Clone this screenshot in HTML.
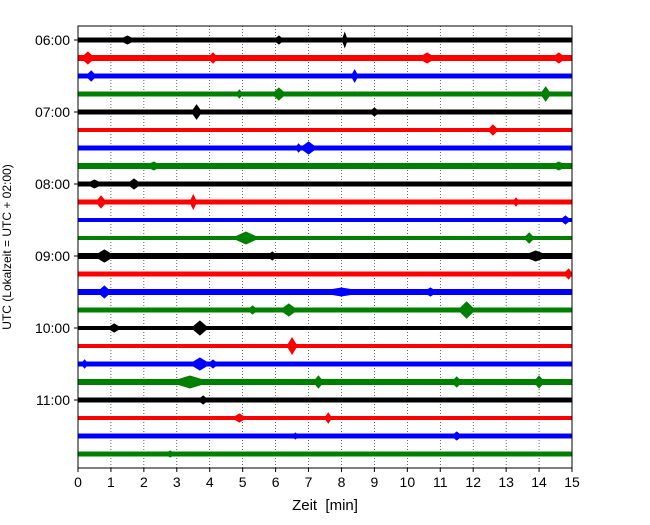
<!DOCTYPE html>
<html><head><meta charset="utf-8"><style>
body{margin:0;background:#fff;}
svg text{font-family:"Liberation Sans",sans-serif;}
</style></head><body>
<svg width="650" height="520" xmlns="http://www.w3.org/2000/svg">
<g id="grid"></g><g id="traces"></g><g id="axes"></g>
</svg>
<script>
const xTicks=[0,1,2,3,4,5,6,7,8,9,10,11,12,13,14,15];
const hourLabels=["06:00","07:00","08:00","09:00","10:00","11:00"];
const traceColors=["#000000","#ff0000","#0000ff","#008000"];
const traceCount=24;
const noiseAmp=[2.5,3,2.5,2.5,2.5,2,2.5,3,2.5,2.5,2,2,3,2.5,3,2.5,2,2,2.5,3,2.5,2,2.5,2.5];
// events: [trace, minute, amplitude (px), duration (min)]
const events=[[0,1.5,4,0.5],[0,8.1,7,0.15],[0,6.1,4,0.3],[1,0.3,6,0.4],[1,4.1,5,0.3],[1,10.6,5,0.5],[1,14.6,5,0.4],[2,0.4,5,0.3],[2,8.4,6,0.2],[3,6.1,6,0.4],[3,14.2,7,0.3],[3,4.9,4,0.2],[4,3.6,7,0.3],[4,9.0,4,0.3],[5,12.6,5,0.3],[6,7.0,6,0.5],[6,6.7,4,0.2],[7,2.3,4,0.5],[7,14.6,4,0.5],[8,1.7,5,0.4],[8,0.5,4,0.5],[9,3.5,7,0.2],[9,0.7,6,0.3],[9,13.3,4,0.2],[10,14.8,4,0.3],[11,5.1,6,0.8],[11,13.7,5,0.3],[12,0.8,6,0.6],[12,5.9,4,0.3],[12,13.9,5,0.8],[13,14.9,5,0.3],[14,0.8,6,0.4],[14,8.0,4,1.5],[14,10.7,4,0.4],[15,6.4,6,0.5],[15,11.8,8,0.5],[15,5.3,4,0.3],[16,3.7,7,0.5],[16,1.1,4,0.4],[17,6.5,8,0.3],[18,3.7,6,0.6],[18,0.2,4,0.2],[18,4.1,4,0.3],[19,3.4,6,1.2],[19,7.3,6,0.3],[19,11.5,5,0.3],[19,14.0,6,0.3],[20,3.8,4,0.3],[21,7.6,5,0.2],[21,4.9,4,0.4],[22,11.5,4,0.3],[22,6.6,3,0.2],[23,2.8,3,0.3]];
const X0=78,X1=572,Y0=26,Y1=468,T0=40,DT=18;
const xs=m=>X0+(X1-X0)*m/15;
const ys=i=>T0+DT*i;
const NS="http://www.w3.org/2000/svg";
function mk(t,a,p){const e=document.createElementNS(NS,t);for(const k in a)e.setAttribute(k,a[k]);p.appendChild(e);return e;}
const grid=document.getElementById('grid'),tr=document.getElementById('traces'),ax=document.getElementById('axes');
xTicks.forEach(m=>{if(m>0&&m<15){const l=mk('line',{x1:xs(m),x2:xs(m),y1:Y0,y2:Y1,stroke:'#000','stroke-width':0.6,'stroke-dasharray':'1,2'},grid);

}});
for(let i=0;i<traceCount;i++){const c=traceColors[i%4];
const r=mk('rect',{x:X0,y:ys(i)-noiseAmp[i],width:X1-X0,height:2*noiseAmp[i],fill:c},tr);

}
events.forEach(ev=>{const [i,m,a,d]=ev;const c=traceColors[i%4];const y=ys(i);
const xa=Math.max(X0,xs(m-d/2)),xb=Math.min(X1,xs(m+d/2)),xm=xs(m);
const p=mk('polygon',{points:`${xa},${y} ${xm},${y-a} ${xb},${y} ${xm},${y+a}`,fill:c,stroke:c,'stroke-width':1},tr);

});
const fr=mk('rect',{x:X0,y:Y0,width:X1-X0,height:Y1-Y0,fill:'none',stroke:'#000','stroke-width':1},ax);


xTicks.forEach(m=>{mk('line',{x1:xs(m),x2:xs(m),y1:Y1,y2:Y1+4,stroke:'#000'},ax);
const t=mk('text',{x:xs(m),y:Y1+19,'text-anchor':'middle','font-size':14},ax);t.textContent=m;

});
hourLabels.forEach((h,k)=>{const y=ys(k*4);mk('line',{x1:X0-4,x2:X0,y1:y,y2:y,stroke:'#000'},ax);
const t=mk('text',{x:X0-8,y:y+5,'text-anchor':'end','font-size':14},ax);t.textContent=h;

});
const xt=mk('text',{x:(X0+X1)/2,y:510,'text-anchor':'middle','font-size':15,style:'white-space:pre'},ax);xt.textContent='Zeit  [min]';


const yt=mk('text',{x:0,y:0,'text-anchor':'middle','font-size':12,transform:`translate(11,${(Y0+Y1)/2}) rotate(-90)`},ax);yt.textContent='UTC (Lokalzeit = UTC + 02:00)';


</script>
</body></html>
